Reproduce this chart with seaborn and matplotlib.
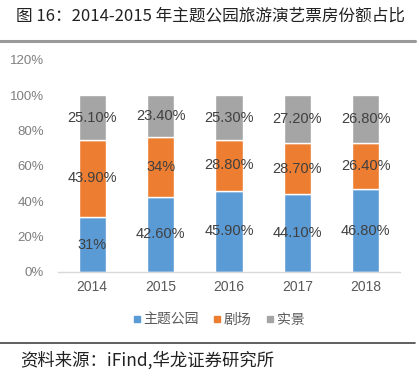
import matplotlib
matplotlib.use("Agg")
import matplotlib.pyplot as plt
import seaborn as sns
import pandas as pd
import numpy as np
from matplotlib.lines import Line2D

years = ["2014", "2015", "2016", "2017", "2018"]
series_names = ["主题公园", "剧场", "实景"]
theme_park = [31.0, 42.6, 45.9, 44.1, 46.8]
theater = [43.9, 34.0, 28.8, 28.7, 26.4]
outdoor = [25.1, 23.4, 25.3, 27.2, 26.8]
label_theme = ["31%", "42.60%", "45.90%", "44.10%", "46.80%"]
label_theater = ["43.90%", "34%", "28.80%", "28.70%", "26.40%"]
label_outdoor = ["25.10%", "23.40%", "25.30%", "27.20%", "26.80%"]
yticks = [0, 20, 40, 60, 80, 100, 120]
colors = ["#5B9BD5", "#ED7D31", "#A5A5A5"]

sns.set_theme(style="white")
plt.rcParams['font.family'] = ['Noto Sans CJK SC', 'DejaVu Sans']

fig = plt.figure(figsize=(4.19, 3.77), dpi=100)
ax = fig.add_axes([58/419, 1-272/377, 342/419, 212/377])

df = pd.DataFrame({"year": years, "a": theme_park, "b": theater, "c": outdoor})
bottom_b = np.array(theme_park)
bottom_c = bottom_b + np.array(theater)

sns.barplot(data=df, x="year", y="a", color=colors[0], width=0.4, ax=ax, saturation=1)
sns.barplot(data=df, x="year", y="b", color=colors[1], width=0.4, ax=ax,
            saturation=1, bottom=bottom_b)
sns.barplot(data=df, x="year", y="c", color=colors[2], width=0.4, ax=ax,
            saturation=1, bottom=bottom_c)

num_font = ['Liberation Sans Narrow', 'Liberation Sans', 'DejaVu Sans']
for i in range(len(years)):
    ax.text(i, theme_park[i] / 2, label_theme[i], ha="center", va="center",
            fontsize=10.5, color="#404040", family=num_font)
    ax.text(i, bottom_b[i] + theater[i] / 2, label_theater[i], ha="center", va="center",
            fontsize=10.5, color="#404040", family=num_font)
    ax.text(i, bottom_c[i] + outdoor[i] / 2, label_outdoor[i], ha="center", va="center",
            fontsize=10.5, color="#404040", family=num_font)

ax.set_ylim(0, 120)
ax.set_xlim(-0.5, 4.5)
ax.set_yticks(yticks)
ax.set_yticklabels([f"{t}%" for t in yticks], family=num_font, fontsize=9.5, color="#7F7F7F")
ax.set_xticks(range(len(years)))
ax.set_xticklabels(years, family=num_font, fontsize=10, color="#595959")
ax.set_xlabel("")
ax.set_ylabel("")
for s in ["top", "right", "left"]:
    ax.spines[s].set_visible(False)
ax.spines["bottom"].set_color("#D9D9D9")
ax.spines["bottom"].set_linewidth(1)
ax.tick_params(axis="x", length=0, pad=6)
ax.tick_params(axis="y", length=0, pad=10)

handles = [Line2D([0], [0], marker="s", linestyle="none", markersize=5,
                  markerfacecolor=c, markeredgecolor=c) for c in colors]
fig.legend(handles, series_names, loc="center", bbox_to_anchor=(217/419, 1-320/377),
           ncol=3, frameon=False, fontsize=10, handletextpad=0.0, columnspacing=0.8,
           handlelength=1.0, labelcolor="#595959")

fig.text(16/419, 1-16/377, "图 16：2014-2015 年主题公园旅游演艺票房份额占比",
         fontsize=12, color="#222222", ha="left", va="center")
fig.add_artist(Line2D([0, 415/419], [1-41/377, 1-41/377], color="#999999", linewidth=2.2,
                      transform=fig.transFigure))
fig.add_artist(Line2D([0, 415/419], [1-343/377, 1-343/377], color="#444444", linewidth=1.2,
                      transform=fig.transFigure))
fig.text(20/419, 1-360/377, "资料来源：iFind,华龙证券研究所",
         fontsize=12.5, color="#222222", ha="left", va="center")

fig.savefig("out.png", dpi=100, facecolor="white")
